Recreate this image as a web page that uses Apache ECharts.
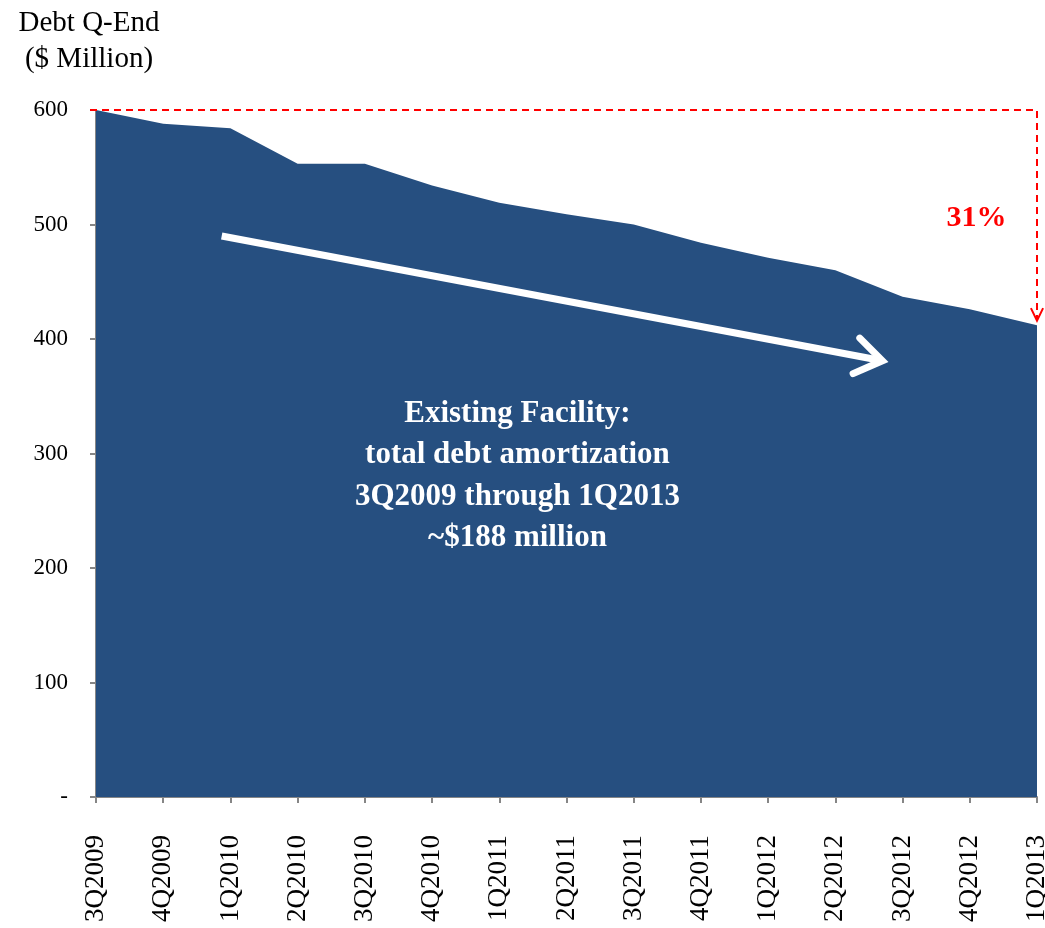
<!DOCTYPE html>
<html>
<head>
<meta charset="utf-8">
<script src="https://cdn.jsdelivr.net/npm/echarts@6/dist/echarts.min.js"></script>
<style>
html,body{margin:0;padding:0;background:#fff}
#chart{width:1045px;height:928px}
</style>
</head>
<body>
<div id="chart"></div>
<script>
var quarters = ['3Q2009','4Q2009','1Q2010','2Q2010','3Q2010','4Q2010','1Q2011','2Q2011',
    '3Q2011','4Q2011','1Q2012','2Q2012','3Q2012','4Q2012','1Q2013'];
var debtValues = [600,588,584,553,553,534,519,509,500,484,471,460,437,426,412];
var noteLines = ['Existing Facility:','total debt amortization','3Q2009 through 1Q2013','~$188 million'];
var dropLabel = '31%';

var serif = '"Liberation Serif","Times New Roman",serif';
var axisGrey = '#868686';

var chart = echarts.init(document.getElementById('chart'));
var option = {
    backgroundColor: '#fff',
    animation: false,
    title: {
        text: 'Debt Q-End\n($ Million)',
        left: 84,
        top: 0,
        textAlign: 'center',
        textStyle: {
            fontFamily: serif,
            fontWeight: 'normal',
            fontSize: 29,
            lineHeight: 36,
            color: '#000'
        }
    },
    grid: {
        left: 96,
        right: 8,
        top: 110,
        bottom: 131,
        outerBoundsMode: 'none'
    },
    xAxis: {
        type: 'category',
        data: quarters,
        boundaryGap: false,
        axisLine: {lineStyle: {color: axisGrey, width: 2}},
        axisTick: {show: true, alignWithLabel: true, length: 6, lineStyle: {color: axisGrey, width: 2}},
        axisLabel: {
            rotate: 90,
            margin: 38,
            interval: 0,
            color: '#000',
            fontFamily: serif,
            fontSize: 27
        },
        splitLine: {show: false}
    },
    yAxis: {
        type: 'value',
        min: 0,
        max: 600,
        interval: 100,
        axisLine: {show: true, lineStyle: {color: axisGrey, width: 2}},
        axisTick: {show: true, length: 6, lineStyle: {color: axisGrey, width: 2}},
        axisLabel: {
            margin: 28,
            color: '#000',
            fontFamily: serif,
            fontSize: 23,
            formatter: function (v) {
                return v === 0 ? '-' : v;
            }
        },
        splitLine: {show: false}
    },
    series: [{
        type: 'line',
        data: debtValues,
        symbol: 'none',
        lineStyle: {width: 0, color: '#264f80'},
        areaStyle: {color: '#264f80', opacity: 1},
        z: 1
    }]
};
chart.setOption(option);

// annotations placed from data coordinates
function px(idx, val) {
    var a = chart.convertToPixel({gridIndex: 0}, [0, val]);
    var b = chart.convertToPixel({gridIndex: 0}, [quarters.length - 1, val]);
    return [a[0] + (b[0] - a[0]) * idx / (quarters.length - 1), a[1]];
}
var last = quarters.length - 1;
var topL = px(0, debtValues[0]);
var topR = px(last, debtValues[0]);
var botR = px(last, debtValues[last] + 4);
var arrS = px(1.87, 490);
var arrE = px(11.7, 381);
var ang = Math.atan2(arrE[1] - arrS[1], arrE[0] - arrS[0]);
function headPt(p, a, len, spread) {
    return [p[0] - len * Math.cos(a + spread), p[1] - len * Math.sin(a + spread)];
}
var noteCenter = px(6.3, 0);
var redDash = {stroke: '#ff0000', lineWidth: 2, lineDash: [7, 5], fill: null};

chart.setOption({
    graphic: [
        {type: 'polyline', shape: {points: [[topL[0] - 6, topL[1]], topR, botR]}, style: redDash, z: 10},
        {type: 'polyline', shape: {points: [headPt(botR, Math.PI / 2, 14, 0.45), botR, headPt(botR, Math.PI / 2, 14, -0.45)]},
            style: {stroke: '#ff0000', lineWidth: 2, fill: null}, z: 10},
        {type: 'text', x: px(13.1, 0)[0], y: px(0, 500)[1] - 21,
            style: {text: dropLabel, fill: '#ff0000', font: 'bold 30px ' + serif, textAlign: 'center', textVerticalAlign: 'top'}, z: 10},
        {type: 'line', shape: {x1: arrS[0], y1: arrS[1], x2: arrE[0], y2: arrE[1]},
            style: {stroke: '#fff', lineWidth: 7}, z: 10},
        {type: 'polyline', shape: {points: [headPt(arrE, ang, 32, 0.6), arrE, headPt(arrE, ang, 32, -0.6)]},
            style: {stroke: '#fff', lineWidth: 7, lineCap: 'round', lineJoin: 'miter', fill: null}, z: 10},
        {type: 'text', x: noteCenter[0] - 2, y: 393,
            style: {text: noteLines.join('\n'), fill: '#fff', font: 'bold 31px ' + serif, lineHeight: 41.5,
                textAlign: 'center', textVerticalAlign: 'top'}, z: 10}
    ]
});
</script>
</body>
</html>
